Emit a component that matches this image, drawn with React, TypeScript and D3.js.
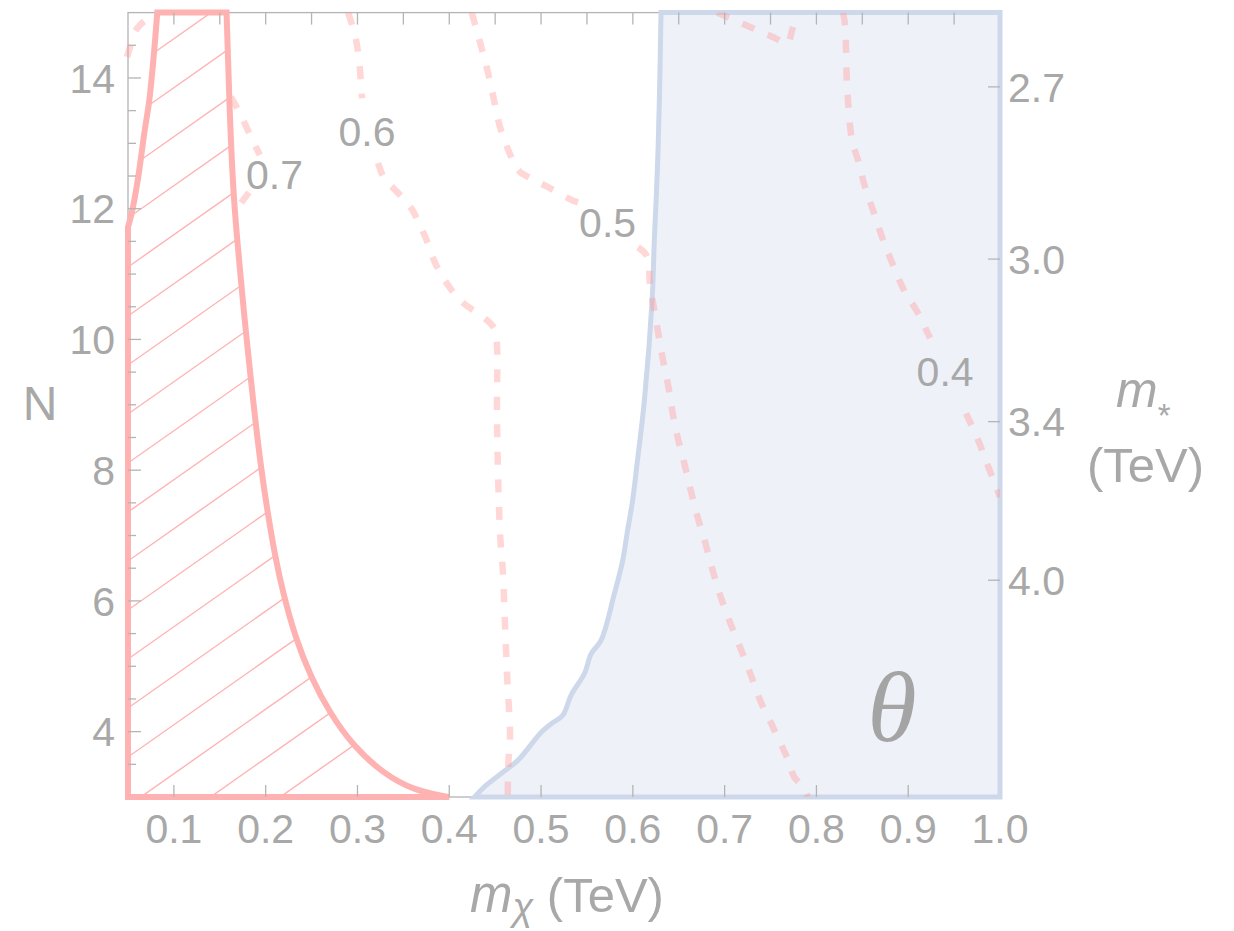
import React from "react";
import * as d3 from "d3";

// ---------- data ----------
const xTicks = [0.1, 0.2, 0.3, 0.4, 0.5, 0.6, 0.7, 0.8, 0.9, 1.0];
const xTopMinor = [0.1, 0.15, 0.2, 0.25, 0.3, 0.35, 0.4, 0.45, 0.5, 0.55, 0.6, 0.65, 0.7, 0.75, 0.8, 0.85, 0.9, 0.95];
const yTicks = [4, 6, 8, 10, 12, 14];
const yMinor = [3.5, 4.5, 5, 5.5, 6.5, 7, 7.5, 8.5, 9, 9.5, 10.5, 11, 11.5, 12.5, 13, 13.5, 14.5];
const mStarTicks = [2.7, 3.0, 3.4, 4.0];
const mStarConst = 4 * Math.PI * 0.8; // m* = const / sqrt(N)

// excluded (hatched) region boundary, [m_chi, N]
const redLeft: [number, number][] = [
  [0.05, 11.72], [0.054, 11.93], [0.0612, 12.49], [0.0678, 13.16], [0.0732, 13.66], [0.0783, 14.38], [0.0819, 15],
];
const redRight: [number, number][] = [
  [0.1574, 15], [0.1602, 13.66], [0.1646, 12.24], [0.169, 11.52], [0.177, 10.3], [0.1825, 9.57], [0.189, 8.72],
  [0.195, 8.03], [0.202, 7.36], [0.2105, 6.66], [0.219, 6.12], [0.232, 5.45], [0.249, 4.84], [0.27, 4.28],
  [0.296, 3.77], [0.328, 3.36], [0.362, 3.1], [0.395, 3.01], [0.4, 3.0],
];

// theta region boundary
const blueBoundary: [number, number][] = [
  [0.4276, 3.0], [0.4403, 3.18], [0.4584, 3.38], [0.4747, 3.56], [0.5002, 3.99], [0.5111, 4.12], [0.5237, 4.25],
  [0.5328, 4.56], [0.5473, 4.89], [0.5546, 5.19], [0.5655, 5.4], [0.5799, 6.11], [0.589, 6.62], [0.5937, 7.03],
  [0.5998, 7.54], [0.6042, 8.05], [0.6126, 9.07], [0.621, 10.6], [0.6234, 11.52], [0.6267, 12.59], [0.6289, 13.66],
  [0.6307, 15],
];

// dashed contours
const contour07a: [number, number][] = [
  [0.0489, 14.32], [0.0521, 14.47], [0.0565, 14.68], [0.0631, 14.81], [0.0707, 14.9], [0.0816, 14.99],
];
const contour07b: [number, number][] = [
  [0.1621, 13.71], [0.1719, 13.46], [0.1806, 13.2], [0.1894, 12.94], [0.1937, 12.82],
];
const contour07c: [number, number][] = [
  [0.1818, 12.25], [0.1699, 12.03], [0.1633, 11.92],
];
const contour06a: [number, number][] = [
  [0.2897, 15], [0.2973, 14.66], [0.3017, 14.27], [0.305, 13.69],
];
const contour06b: [number, number][] = [
  [0.3224, 12.7], [0.3289, 12.47], [0.3387, 12.32], [0.3496, 12.16], [0.3594, 11.99], [0.366, 11.81], [0.3747, 11.54],
  [0.3856, 11.14], [0.4008, 10.79], [0.415, 10.56], [0.4292, 10.42], [0.4444, 10.25], [0.4499, 10.14], [0.452, 9.91],
  [0.452, 8.77], [0.4553, 7.04], [0.4583, 6.47], [0.4608, 5.62], [0.4633, 4.77], [0.4662, 3.93], [0.4644, 3.54],
  [0.4637, 3.0],
];
const contour05a: [number, number][] = [
  [0.4245, 15], [0.4346, 14.49], [0.4422, 14.08], [0.4488, 13.66], [0.4553, 13.25], [0.4651, 12.87], [0.4749, 12.59],
  [0.488, 12.47], [0.5076, 12.33], [0.5338, 12.13], [0.5425, 12.09],
];
const contour05b: [number, number][] = [
  [0.6057, 11.41], [0.6155, 11.27], [0.6188, 10.83], [0.6253, 10.3], [0.6318, 9.76], [0.6384, 9.3], [0.6428, 8.92],
  [0.6482, 8.54], [0.6558, 8.12], [0.6624, 7.73], [0.67, 7.31], [0.6787, 6.9], [0.6863, 6.5], [0.695, 6.09],
  [0.7048, 5.71], [0.7168, 5.29], [0.7277, 4.9], [0.7386, 4.48], [0.7506, 4.13], [0.7626, 3.77], [0.7691, 3.57],
  [0.7756, 3.31], [0.7844, 3.17], [0.7909, 3.0],
];
const contourTop: [number, number][] = [
  [0.6918, 15], [0.7277, 14.78], [0.755, 14.61], [0.768, 14.52], [0.7735, 14.73], [0.7789, 15],
];
const contour04a: [number, number][] = [
  [0.829, 15], [0.8312, 14.81], [0.8334, 13.89], [0.8388, 13.05], [0.8454, 12.74], [0.853, 12.33], [0.8628, 11.93],
  [0.8726, 11.52], [0.8835, 11.14], [0.8955, 10.75], [0.9108, 10.4], [0.9238, 10.02],
];
const contour04b: [number, number][] = [
  [0.963, 8.87], [0.9761, 8.46], [0.987, 8.06], [1.0, 7.59],
];
const contourSegments = [contour07a, contour07b, contour07c, contour06a, contour06b, contour05a, contour05b, contourTop, contour04a, contour04b];

const contourLabels = ["0.7", "0.6", "0.5", "0.4"];
const contourLabelM = [0.2096, 0.3104, 0.5725, 0.9402];
const contourLabelN = [12.52, 13.19, 11.79, 9.52];

const regionLabel = "θ";
const regionLabelM = 0.8824;
const regionLabelN = 3.86;

// ---------- styling ----------
const W = 1234;
const H = 931;
const FONT = "'Liberation Sans', Arial, sans-serif";
const TXT = "#a8a8a8";
const AX = "#b4b4b4";
const RED = "#ffb2b2";
const BLUE_FILL = "#eef2f8";
const BLUE_STROKE = "#cdd8ea";

export default function App() {
  const x = d3.scaleLinear().domain([0.05, 1.0]).range([128, 1000]);
  const y = d3.scaleLinear().domain([3, 15]).range([797, 12.6]);

  const smooth = d3
    .line<[number, number]>()
    .x((d) => x(d[0]))
    .y((d) => y(d[1]))
    .curve(d3.curveCatmullRom.alpha(0.5));
  const basis = d3
    .line<[number, number]>()
    .x((d) => x(d[0]))
    .y((d) => y(d[1]))
    .curve(d3.curveBasis);

  // red region path: straight left edge, curved upper-left, straight top, curved right, straight bottom
  const redPath =
    "M" + x(0.05) + "," + y(3) +
    (smooth(redLeft) as string).replace(/^M/, "L") +
    (basis(redRight) as string).replace(/^M/, "L") +
    "L" + x(0.05) + "," + y(3) + "Z";

  // blue region path
  const bluePath =
    (smooth(blueBoundary) as string) +
    "L" + x(1.0) + "," + y(15) +
    "L" + x(1.0) + "," + y(3) + "Z";

  // hatch lines (decorative pattern)
  const slope = 0.703;
  const hatch: { x1: number; y1: number; x2: number; y2: number }[] = [];
  for (let k = -16; k <= 6; k++) {
    const y0 = 610 + 49 * k;
    const xa = 100;
    const xb = 480;
    hatch.push({ x1: xa, y1: y0 + slope * (128 - xa), x2: xb, y2: y0 - slope * (xb - 128) });
  }

  const x0 = x(0.05);
  const x1 = x(1.0);
  const yb = y(3);
  const yt = y(15);

  return (
    <svg
      width={W}
      height={H}
      viewBox={`0 0 ${W} ${H}`}
      style={{ position: "absolute", left: 0, top: 0, background: "#fff" }}
    >
      <defs>
        <clipPath id="redClip">
          <path d={redPath} />
        </clipPath>
        <clipPath id="plotClip">
          <rect x={x0 - 8} y={yt} width={x1 - x0 + 8} height={yb - yt} />
        </clipPath>
      </defs>
      <rect x={0} y={0} width={W} height={H} fill="#fff" />

      {/* frame */}
      <rect x={x0} y={yt} width={x1 - x0} height={yb - yt} fill="none" stroke={AX} strokeWidth={1.3} />

      {/* theta region */}
      <path d={bluePath} fill={BLUE_FILL} stroke={BLUE_STROKE} strokeWidth={5} strokeLinejoin="miter" />

      {/* contours */}
      <g clipPath="url(#plotClip)">
        {contourSegments.map((seg, i) => (
          <path
            key={i}
            d={smooth(seg) as string}
            fill="none"
            stroke="#ff9a9a"
            strokeOpacity={0.4}
            strokeWidth={6.5}
            strokeDasharray="13 14.5"
          />
        ))}
      </g>

      {/* excluded hatched region */}
      <path d={redPath} fill="#fff" />
      <g clipPath="url(#redClip)">
        {hatch.map((h, i) => (
          <line key={i} x1={h.x1} y1={h.y1} x2={h.x2} y2={h.y2} stroke={RED} strokeWidth={1.4} />
        ))}
      </g>
      <path d={redPath} fill="none" stroke={RED} strokeWidth={6} strokeLinejoin="miter" />

      {/* ticks */}
      <g stroke={AX} strokeWidth={1.3}>
        {xTopMinor.map((t) => (
          <line key={"tt" + t} x1={x(t)} x2={x(t)} y1={yt} y2={yt + 12} />
        ))}
        {xTicks.slice(0, 9).map((t) => (
          <line key={"bt" + t} x1={x(t)} x2={x(t)} y1={yb} y2={yb - 12} />
        ))}
        {yTicks.map((t) => (
          <line key={"ly" + t} x1={x0} x2={x0 + 13} y1={y(t)} y2={y(t)} />
        ))}
        {yMinor.map((t) => (
          <line key={"lm" + t} x1={x0} x2={x0 + 8} y1={y(t)} y2={y(t)} />
        ))}
        {mStarTicks.map((m) => {
          const n = (mStarConst / m) ** 2;
          return <line key={"r" + m} x1={x1 - 12} x2={x1} y1={y(n)} y2={y(n)} />;
        })}
      </g>

      {/* tick labels */}
      <g fontFamily={FONT} fontSize={41} fill={TXT}>
        {xTicks.map((t) => (
          <text key={"xl" + t} x={x(t)} y={843} textAnchor="middle">
            {t.toFixed(1)}
          </text>
        ))}
        {yTicks.map((t) => (
          <text key={"yl" + t} x={115} y={y(t) + 14.7} textAnchor="end">
            {t}
          </text>
        ))}
        {mStarTicks.map((m) => {
          const n = (mStarConst / m) ** 2;
          return (
            <text key={"rl" + m} x={1008} y={y(n) + 14.7} textAnchor="start">
              {m.toFixed(1)}
            </text>
          );
        })}
        {contourLabels.map((l, i) => (
          <text key={"cl" + l} x={x(contourLabelM[i])} y={y(contourLabelN[i]) + 14.7} textAnchor="middle">
            {l}
          </text>
        ))}
      </g>

      {/* axis titles */}
      <g fontFamily={FONT} fill={TXT}>
        <text x={40} y={419.5} fontSize={48} textAnchor="middle">
          N
        </text>
        <text x={470} y={912} fontSize={49} textAnchor="start">
          <tspan fontStyle="italic" fontSize={51}>m</tspan>
          <tspan fontStyle="italic" fontSize={38} dy={8}>χ</tspan>
          <tspan dy={-8}> (TeV)</tspan>
        </text>
        <text x={1116} y={407} fontSize={50} textAnchor="start">
          <tspan fontStyle="italic">m</tspan>
          <tspan fontSize={33} dy={20}>*</tspan>
        </text>
        <text x={1145.5} y={482} fontSize={49} textAnchor="middle">
          (TeV)
        </text>
      </g>

      {/* region label */}
      <text
        x={x(regionLabelM)}
        y={y(regionLabelN)}
        fontFamily="'Liberation Serif', 'Times New Roman', serif"
        fontStyle="italic"
        fontSize={100}
        fill="#a4a4a4"
        textAnchor="middle"
      >
        {regionLabel}
      </text>
    </svg>
  );
}
